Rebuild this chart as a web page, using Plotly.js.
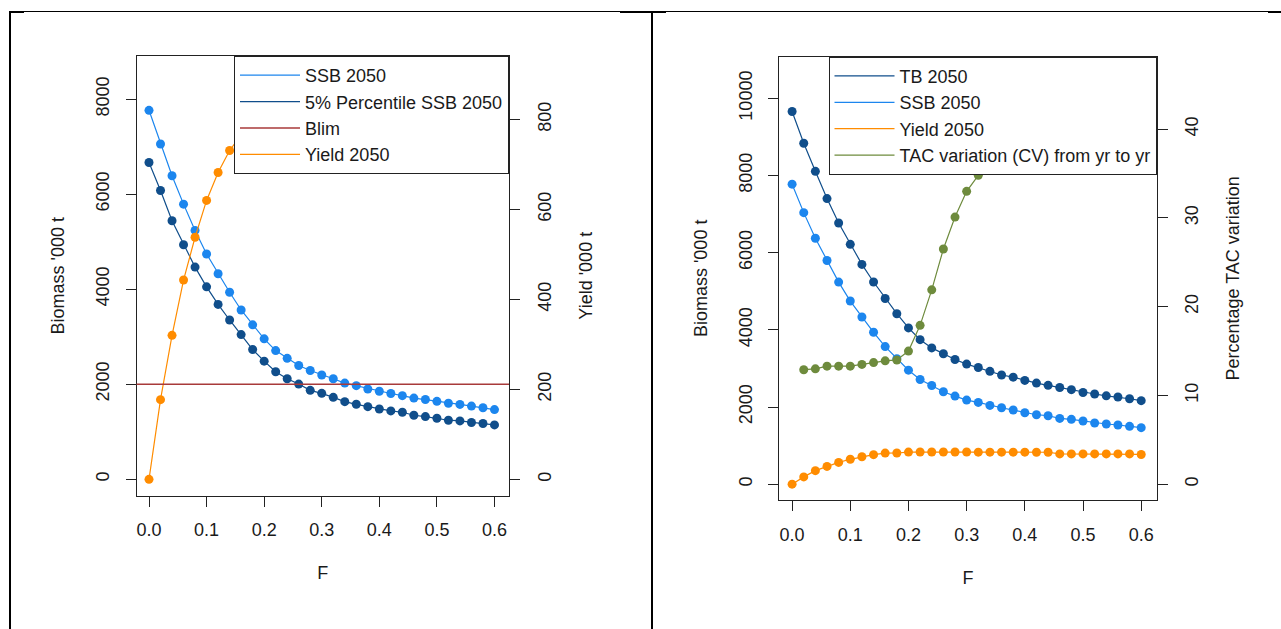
<!DOCTYPE html>
<html><head><meta charset="utf-8">
<script src="https://cdn.plot.ly/plotly-3.0.1.min.js"></script>
<style>html,body{margin:0;padding:0;background:#fff}#chart{width:1281px;height:629px}</style>
</head><body><div id="chart"></div>
<script>
// ---------- data ----------
const F = [0, 0.02, 0.04, 0.06, 0.08, 0.10, 0.12, 0.14, 0.16, 0.18, 0.20, 0.22, 0.24, 0.26, 0.28, 0.30,
           0.32, 0.34, 0.36, 0.38, 0.40, 0.42, 0.44, 0.46, 0.48, 0.50, 0.52, 0.54, 0.56, 0.58, 0.60];
const xTicks = [0, 0.1, 0.2, 0.3, 0.4, 0.5, 0.6];

// left panel
const ssb2050 = [7764, 7055, 6388, 5790, 5237, 4740, 4325, 3935, 3563, 3250, 2955, 2708, 2545, 2395, 2290, 2195,
                 2115, 2025, 1970, 1900, 1852, 1805, 1760, 1708, 1678, 1640, 1600, 1575, 1540, 1505, 1466];
const ssb5pct = [6667, 6076, 5440, 4935, 4465, 4050, 3680, 3352, 3045, 2730, 2486, 2263, 2116, 2004, 1872, 1809,
                 1725, 1634, 1578, 1529, 1480, 1439, 1411, 1348, 1320, 1285, 1243, 1229, 1194, 1173, 1145];
const blim = 2000;
const yieldLeft = [0, 177, 320, 443, 538, 620, 682, 731, 765, 768, 793, 795, 795, 795, 795, 795,
                   790, 790, 790, 790, 790, 785, 785, 745, 745, 745, 745, 745, 745, 745, 730];
const leftBioTicks = [0, 2000, 4000, 6000, 8000];
const leftYieldTicks = [0, 200, 400, 600, 800];

// right panel
const tb2050 = [9657, 8836, 8108, 7401, 6767, 6216, 5696, 5239, 4813, 4418, 4050, 3745, 3532, 3380, 3232, 3112,
                3024, 2925, 2830, 2774, 2690, 2619, 2562, 2506, 2450, 2375, 2337, 2289, 2260, 2214, 2165];
const ssb2050R = [7775, 7037, 6372, 5797, 5237, 4746, 4332, 3936, 3566, 3250, 2954, 2713, 2558, 2394, 2283, 2179,
                  2119, 2041, 1981, 1921, 1852, 1800, 1774, 1705, 1680, 1636, 1585, 1559, 1533, 1499, 1464];
const yield2050R = [0, 189, 350, 460, 565, 645, 712, 765, 805, 808, 832, 835, 835, 835, 835, 835,
                    830, 830, 830, 830, 830, 828, 828, 785, 785, 785, 785, 785, 785, 785, 770];
const tacCV = [null, 12.9, 13.0, 13.3, 13.3, 13.3, 13.5, 13.7, 13.9, 14.0, 15.0, 17.9, 21.9, 26.5, 30.1, 33.0, 34.8];
const rightBioTicks = [0, 2000, 4000, 6000, 8000, 10000];
const tacTicks = [0, 10, 20, 30, 40];

// ---------- styling ----------
const W = 1281, H = 629;
const px = v => v / W, py = v => 1 - v / H;
const cLight = '#1C86EE', cDark = '#104E8B', cOrange = '#FF8C00', cGreen = '#6E8B3D', cRed = '#A83A3A';
const FONT = {family: 'Liberation Sans, Arial, sans-serif', size: 18, color: '#1a1a1a'};
const MS = 9;

function pair(x, y, color, name, xa, ya, legend, rank) {
  return [
    {x: x, y: y, mode: 'lines', line: {color: color, width: 1.2}, name: name, legend: legend,
     legendrank: rank, xaxis: xa, yaxis: ya, hoverinfo: 'skip'},
    {x: x, y: y, mode: 'markers', marker: {color: color, size: MS, line: {width: 0}}, showlegend: false,
     xaxis: xa, yaxis: ya, hoverinfo: 'skip'}
  ];
}

const traces = [].concat(
  pair(F, ssb2050, cLight, 'SSB 2050', 'x', 'y', 'legend', 1),
  pair(F, ssb5pct, cDark, '5% Percentile SSB 2050', 'x', 'y', 'legend', 2),
  pair(F, yieldLeft, cOrange, 'Yield 2050', 'x', 'y2', 'legend', 4),
  pair(F, tb2050, cDark, 'TB 2050', 'x2', 'y3', 'legend2', 1),
  pair(F, ssb2050R, cLight, 'SSB 2050', 'x2', 'y3', 'legend2', 2),
  pair(F, yield2050R, cOrange, 'Yield 2050', 'x2', 'y3', 'legend2', 3),
  pair(F, tacCV, cGreen, 'TAC variation (CV) from yr to yr', 'x2', 'y4', 'legend2', 4)
);

const axBase = {showgrid: false, zeroline: false, ticks: 'outside', ticklen: 10, tickwidth: 1,
  tickcolor: '#222', linecolor: '#222', linewidth: 1, tickfont: FONT, automargin: false, fixedrange: true};

function xAx(domain, range, anchor) {
  return Object.assign({}, axBase, {domain: domain, range: range, anchor: anchor, tickvals: xTicks,
    tickformat: '.1f', showline: true, mirror: true, ticklabelstandoff: 8,
    title: {text: 'F', font: FONT, standoff: 27}});
}
function yAx(domain, range, anchor, ticks, title, standoff, extra) {
  return Object.assign({}, axBase, {domain: domain, range: range, anchor: anchor, tickvals: ticks,
    tickformat: 'd', tickangle: -90, showline: true, mirror: true, ticklabelstandoff: 9,
    title: {text: title, font: FONT, standoff: standoff}}, extra || {});
}

const lDomX = [px(136.5), px(509)], lDomY = [py(495.5), py(56)];
const rDomX = [px(779.3), px(1156.5)], rDomY = [py(500), py(56.7)];

const frame = {color: '#000', width: 2};
const shapes = [
  {type: 'line', xref: 'x domain', yref: 'y', x0: 0, x1: 1, y0: blim, y1: blim,
   line: {color: cRed, width: 1.5}, showlegend: true, name: 'Blim', legend: 'legend', legendrank: 3},
  {type: 'line', xref: 'paper', yref: 'paper', x0: px(9), x1: px(1281), y0: py(11.5), y1: py(11.5), line: {color: '#000', width: 1}},
  {type: 'line', xref: 'paper', yref: 'paper', x0: px(10), x1: px(10), y0: py(11), y1: py(629), line: frame},
  {type: 'line', xref: 'paper', yref: 'paper', x0: px(652), x1: px(652), y0: py(11), y1: py(629), line: frame},
  {type: 'line', xref: 'paper', yref: 'paper', x0: px(9), x1: px(24), y0: py(12), y1: py(12), line: frame},
  {type: 'line', xref: 'paper', yref: 'paper', x0: px(620), x1: px(666), y0: py(12), y1: py(12), line: frame},
  {type: 'line', xref: 'paper', yref: 'paper', x0: px(1268), x1: px(1281), y0: py(12), y1: py(12), line: frame}
];

const legBase = {bgcolor: '#fff', bordercolor: '#222', borderwidth: 1, font: FONT, yanchor: 'top',
  xanchor: 'right', itemwidth: 60, tracegroupgap: 0, itemclick: false, itemdoubleclick: false};

const layout = {
  width: W, height: H, margin: {l: 0, r: 0, t: 0, b: 0}, paper_bgcolor: '#fff', plot_bgcolor: '#fff',
  font: FONT, hovermode: false,
  xaxis: xAx(lDomX, [-0.0217, 0.6252], 'y'),
  yaxis: yAx(lDomY, [-341, 8907], 'x', leftBioTicks, "Biomass '000 t", 23),
  yaxis2: yAx(lDomY, [-36, 941], 'x', leftYieldTicks, "Yield '000 t", 25,
    {overlaying: 'y', side: 'right', showline: false, mirror: false}),
  xaxis2: xAx(rDomX, [-0.022, 0.6263], 'y3'),
  yaxis3: yAx(rDomY, [-410, 11078], 'x2', rightBioTicks, "Biomass '000 t", 23),
  yaxis4: yAx(rDomY, [-1.78, 48.17], 'x2', tacTicks, 'Percentage TAC variation', 25,
    {overlaying: 'y3', side: 'right', showline: false, mirror: false}),
  legend: Object.assign({}, legBase, {x: px(509), y: py(56)}),
  legend2: Object.assign({}, legBase, {x: px(1156.5), y: py(56.7)}),
  shapes: shapes
};

Plotly.newPlot('chart', traces, layout, {staticPlot: true, displayModeBar: false});
</script></body></html>
